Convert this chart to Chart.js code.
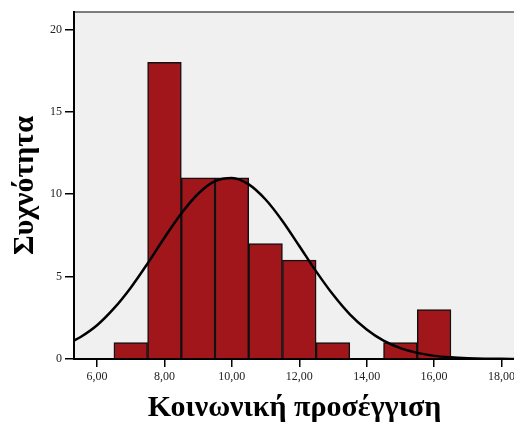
<!DOCTYPE html>
<html>
<head>
<meta charset="utf-8">
<script src="https://cdn.jsdelivr.net/npm/chart.js@4/dist/chart.umd.min.js"></script>
<style>
  html, body { margin: 0; padding: 0; background: #fff; overflow: hidden; }
  #wrap { width: 518px; height: 426px; }
</style>
</head>
<body>
<div id="wrap"><canvas id="hist"></canvas></div>
<script>
// histogram bins (bin centres) and counts
const binCenters = [7, 8, 9, 10, 11, 12, 13, 15, 16];
const counts = [1, 18, 11, 11, 7, 6, 1, 1, 3];

// fitted normal curve, read at half-unit steps
const curveX = [5.3, 5.5, 6, 6.5, 7, 7.5, 8, 8.5, 9, 9.5, 10, 10.5, 11, 11.5, 12, 12.5, 13, 13.5, 14, 14.5, 15, 15.5, 16, 16.5, 17, 17.5, 18, 18.4];
const curveY = [1.1, 1.32, 2.05, 3.07, 4.33, 5.8, 7.36, 8.83, 10.03, 10.79, 10.99, 10.6, 9.68, 8.38, 6.86, 5.32, 3.91, 2.71, 1.79, 1.11, 0.66, 0.37, 0.19, 0.1, 0.05, 0.02, 0.01, 0];

const xTicks = [6, 8, 10, 12, 14, 16, 18];
const yTicks = [0, 5, 10, 15, 20];

const serif = 'Liberation Serif, Times New Roman, serif';

// grey panel behind the plot with a dark frame on top/left
const panel = {
  id: 'panel',
  beforeDraw(chart) {
    const { ctx, chartArea: a } = chart;
    ctx.save();
    ctx.fillStyle = '#f0f0f0';
    ctx.fillRect(a.left, a.top, a.right - a.left, a.bottom - a.top);
    ctx.strokeStyle = '#555';
    ctx.lineWidth = 1.5;
    ctx.beginPath();
    ctx.moveTo(a.left, a.bottom);
    ctx.lineTo(a.left, a.top);
    ctx.lineTo(a.right, a.top);
    ctx.stroke();
    ctx.restore();
  }
};

new Chart(document.getElementById('hist'), {
  type: 'bar',
  data: {
    datasets: [
      {
        type: 'line',
        data: curveX.map((x, i) => ({ x, y: curveY[i] })),
        borderColor: '#000',
        borderWidth: 2.5,
        pointRadius: 0,
        cubicInterpolationMode: 'monotone',
        order: 0
      },
      {
        data: binCenters.map((x, i) => ({ x, y: counts[i] })),
        backgroundColor: '#a0161b',
        borderColor: '#111',
        borderWidth: 1.5,
        barPercentage: 1,
        categoryPercentage: 1,
        order: 1
      }
    ]
  },
  options: {
    responsive: true,
    maintainAspectRatio: false,
    animation: false,
    layout: { padding: { top: 12, right: 0, left: 0, bottom: 0 } },
    plugins: {
      legend: { display: false },
      tooltip: { enabled: false }
    },
    scales: {
      x: {
        type: 'linear',
        offset: false,
        min: 5.316,
        max: 18.4,
        afterBuildTicks: s => { s.ticks = xTicks.map(v => ({ value: v })); },
        afterFit: s => { s.height = 67; },
        grid: { offset: false, drawOnChartArea: false, drawTicks: true, tickLength: 8, color: '#000', lineWidth: 1.5 },
        border: { display: true, color: '#000', width: 2 },
        ticks: {
          color: '#222',
          padding: 3,
          maxRotation: 0,
          font: { family: serif, size: 12 },
          callback: v => v.toFixed(2).replace('.', ',')
        },
        title: {
          display: true,
          text: 'Κοινωνική προσέγγιση',
          color: '#000',
          font: { family: serif, size: 30, weight: 'bold' },
          padding: { top: 0, bottom: 0 }
        }
      },
      y: {
        min: 0,
        max: 21.06,
        afterBuildTicks: s => { s.ticks = yTicks.map(v => ({ value: v })); },
        afterFit: s => { s.width = 74; },
        grid: { drawOnChartArea: false, drawTicks: true, tickLength: 9, color: '#000', lineWidth: 1.5 },
        border: { display: true, color: '#000', width: 2 },
        ticks: {
          color: '#222',
          padding: 3,
          font: { family: serif, size: 12 }
        },
        title: {
          display: true,
          text: 'Συχνότητα',
          color: '#000',
          font: { family: serif, size: 30, weight: 'bold' },
          padding: { top: 7, bottom: 0 }
        }
      }
    }
  },
  plugins: [panel]
});
</script>
</body>
</html>
